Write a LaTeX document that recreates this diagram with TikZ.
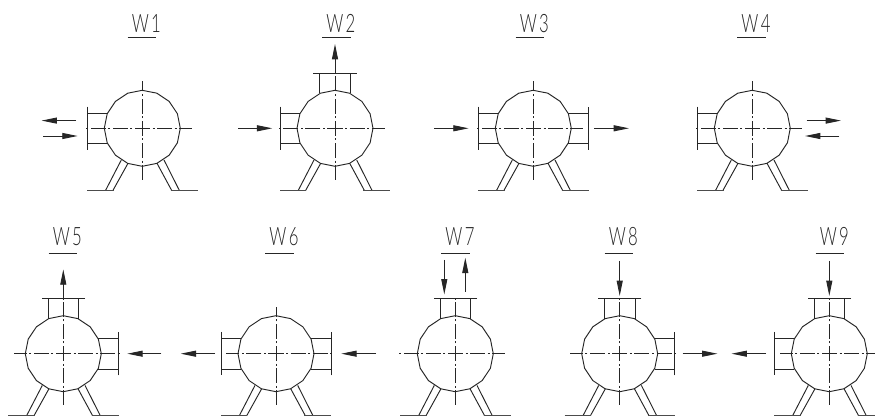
\documentclass[tikz,border=0pt]{standalone}
\usepackage{fontspec}
\setmainfont{Lato}[UprightFont=* Light]
\usetikzlibrary{arrows.meta}
\tikzset{
  x=0.75pt,y=-0.75pt,
  part/.style={line width=0.7pt,draw=black!85},
  heavy/.style={line width=0.8pt,draw=black!70},
  cl/.style={line width=0.7pt,draw=black!85,dash pattern=on 11.25pt off 1.9pt on 1.5pt off 1.9pt,dash phase=5.5pt},
  flow/.style={line width=0.7pt,draw=black!85,-{Triangle[length=11.5pt,width=4.5pt]}},
  title/.style={inner sep=0pt,anchor=base west,font=\fontsize{19pt}{20pt}\selectfont,text=black!85}
}
\newcommand{\vesselbody}[3]{% left, right, top extents of centre lines
  \draw[part] plot[samples=16,domain=0:337.5] ({38*cos(\x)},{38*sin(\x)}) -- cycle;
  \draw[part] (-21,31.7) -- (-36.7,62) (-14.3,35) -- (-29.3,62);
  \draw[part] (14.7,35) -- (29.3,62) (21.7,31.7) -- (37,62);
  \draw[heavy] (-55,62) -- (-28.7,62) (28.3,62) -- (55.3,62);
  \draw[cl] (0,0) -- (-#1,0) (0,0) -- (#2,0) (0,0) -- (0,-#3) (0,0) -- (0,54);
}
\newcommand{\noz}[1]{% rotation: 0 left, -90 top, 180 right
  \begin{scope}[rotate=#1]
    \draw[part] (-55,-21.7) -- (-55,21.7);
    \draw[part] (-55,-15.3) -- (-35,-15.3) (-55,15.3) -- (-35,15.3);
  \end{scope}
}
\newcommand{\wtitle}[5]{% name, x, baseline y, rule y, text
  \node[title] (#1) at (#2-10.5,#3) {\scalebox{0.66}[1]{W\kern2.8pt #5}};
  \draw[line width=0.7pt,draw=black!85] (#2-14.4,#4) -- (#2+14.4,#4);
}
\begin{document}
\begin{tikzpicture}
\useasboundingbox (0,0) rectangle (875,416);
\fill[white] (0,0) rectangle (875,416);
% W1
\begin{scope}[shift={(142.3,128.3)}]
  \vesselbody{58}{50}{47}\noz{0}
  \draw[flow] (-66.3,-7.7) -- (-100.7,-7.7);
  \draw[flow] (-99,7.7) -- (-64.7,7.7);
\end{scope}
% W2
\begin{scope}[shift={(335,128.3)}]
  \vesselbody{58}{50}{55}\noz{0}\noz{-90}
  \draw[flow] (-96.7,0) -- (-62.7,0);
  \draw[flow] (0,-55) -- (0,-84.3);
\end{scope}
% W3
\begin{scope}[shift={(533.3,128.3)}]
  \vesselbody{58}{50}{47}\noz{0}\noz{180}
  \draw[flow] (-99.3,0) -- (-64.7,0);
  \draw[flow] (60.7,0) -- (95.7,0);
\end{scope}
% W4
\begin{scope}[shift={(752.3,128.3)}]
  \vesselbody{58}{50}{47}\noz{0}
  \draw[flow] (54.3,-7.7) -- (88.7,-7.7);
  \draw[flow] (87,7.7) -- (52.7,7.7);
\end{scope}
% W5
\begin{scope}[shift={(63.3,353.7)}]
  \vesselbody{49}{58}{55}\noz{-90}\noz{180}
  \draw[flow] (0,-55) -- (0,-84.3);
  \draw[flow] (98,0) -- (64,0);
\end{scope}
% W6
\begin{scope}[shift={(276,353.7)}]
  \vesselbody{50}{58}{47}\noz{0}\noz{180}
  \draw[flow] (-61,0) -- (-95.3,0);
  \draw[flow] (100,0) -- (65.3,0);
\end{scope}
% W7
\begin{scope}[shift={(455.3,353.7)}]
  \vesselbody{58}{50}{55}\noz{-90}
  \draw[flow] (-11,-93.7) -- (-11,-59.3);
  \draw[flow] (10,-61.7) -- (10,-96);
\end{scope}
% W8
\begin{scope}[shift={(619.7,353.7)}]
  \vesselbody{50}{58}{55}\noz{-90}\noz{180}
  \draw[flow] (0,-92.7) -- (0,-57.7);
  \draw[flow] (63,0) -- (97.7,0);
\end{scope}
% W9
\begin{scope}[shift={(829.3,353.7)}]
  \vesselbody{49}{50}{55}\noz{0}\noz{-90}
  \draw[flow] (0,-92.7) -- (0,-57.7);
  \draw[flow] (-63.3,0) -- (-97.7,0);
\end{scope}
\wtitle{t1}{142}{32.3}{37.3}{1}
\wtitle{t2}{336.5}{32.3}{37.3}{2}
\wtitle{t3}{530}{32.3}{37.3}{3}
\wtitle{t4}{751.7}{32.3}{37.3}{4}
\wtitle{t5}{63}{246}{253}{5}
\wtitle{t6}{279.7}{246}{253}{6}
\wtitle{t7}{455.7}{246}{253}{7}
\wtitle{t8}{619}{246}{253}{8}
\wtitle{t9}{830}{246}{253}{9}
\end{tikzpicture}
\end{document}
